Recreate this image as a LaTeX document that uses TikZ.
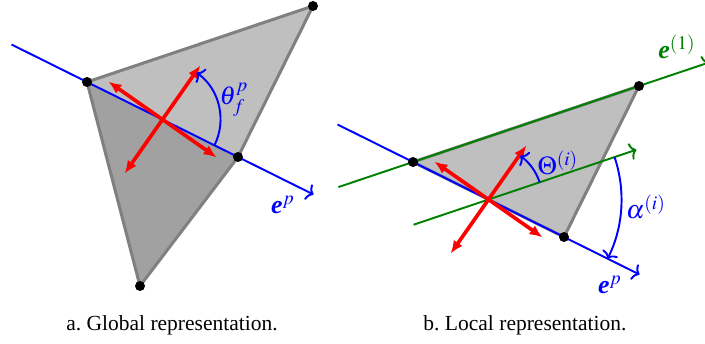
\documentclass[tikz,border=0pt]{standalone}
\usepackage{mathptmx}
\usepackage{fontspec}
\setmainfont{Liberation Serif}
\frenchspacing
\usetikzlibrary{calc,arrows.meta}
\tikzset{
  rim/.style={draw=black!50, line width=1.4pt, line join=round},
  bluax/.style={blue, line width=0.9pt, -{To[length=3pt,width=8pt]}},
  grnax/.style={green!50!black, line width=0.9pt, -{To[length=3pt,width=8pt]}},
  redarr/.style={red, line width=1.7pt, {Latex[length=6pt,width=5pt]}-{Latex[length=6pt,width=5pt]}},
  angarc/.style={blue, line width=0.9pt, -{To[length=3pt,width=8pt]}},
  lbl/.style={font=\large}
}
\newcommand{\ve}{\textbf{\textit{e}}}
\begin{document}
\begin{tikzpicture}[x=0.465pt,y=0.465pt]
  \useasboundingbox (0,0) rectangle (705,343);
  % a. global representation
  \coordinate (T1) at (313,337);
  \coordinate (A1) at (87,261);
  \coordinate (C1) at (238,186);
  \coordinate (D1) at (140,57);
  \coordinate (O1) at ($(A1)!0.5!(C1)$);
  \fill[black!25] (A1) -- (T1) -- (C1) -- cycle;
  \fill[black!37] (A1) -- (C1) -- (D1) -- cycle;
  \draw[rim] (A1) -- (T1) -- (C1) -- (D1) -- cycle;
  \coordinate (P1s) at ($(A1)!-0.5!(C1)$);
  \coordinate (P1e) at ($(A1)!1.5!(C1)$);
  \draw[bluax] (P1s) -- (P1e);
  \draw[redarr] ($(O1)+(145:66)$) -- ($(O1)+(-35:66)$);
  \draw[redarr] ($(O1)+(235:66)$) -- ($(O1)+(55:66)$);
  \draw[angarc] ($(O1)+(-26.4:58)$) arc[start angle=-26.4, end angle=54, radius=58];
  \foreach \v in {A1,T1,C1,D1}
    \fill (\v) circle (5);
  \node[blue, lbl] (thf) at (234,243) {$\theta_f^p$};
  \node[blue, lbl] (ep1) at (283,138) {$\ve^p$};
  % b. local representation
  \coordinate (T2) at ($(T1)+(326,-80)$);
  \coordinate (A2) at ($(A1)+(326,-80)$);
  \coordinate (C2) at ($(C1)+(326,-80)$);
  \coordinate (O2) at ($(A2)!0.5!(C2)$);
  \fill[black!25] (A2) -- (T2) -- (C2) -- cycle;
  \draw[rim] (A2) -- (T2) -- (C2) -- cycle;
  \coordinate (E1s) at ($(A2)!-0.33!(T2)$);
  \coordinate (E1e) at ($(A2)!1.31!(T2)$);
  \draw[grnax] (E1s) -- (E1e);
  \coordinate (P2s) at ($(A2)!-0.5!(C2)$);
  \coordinate (P2e) at ($(A2)!1.5!(C2)$);
  \draw[bluax] (P2s) -- (P2e);
  \draw[grnax] ($(O2)+(198.6:79)$) -- ($(O2)+(18.6:156)$);
  \draw[redarr] ($(O2)+(145:66)$) -- ($(O2)+(-35:66)$);
  \draw[redarr] ($(O2)+(235:66)$) -- ($(O2)+(55:66)$);
  \draw[angarc] ($(O2)+(18.6:54)$) arc[start angle=18.6, end angle=54, radius=54];
  \draw[angarc] ($(O2)+(18.6:133)$) arc[start angle=18.6, end angle=-26.4, radius=133];
  \foreach \v in {A2,T2,C2}
    \fill (\v) circle (5);
  \node[blue, lbl] (Th) at (558,180) {$\Theta^{(i)}$};
  \node[blue, lbl] (al) at (646,136) {$\alpha^{(i)}$};
  \node[blue, lbl] (ep2) at (610,58) {$\ve^p$};
  \node[green!50!black, lbl] (eone) at (677,296) {$\ve^{(1)}$};
  % captions
  \node (capa) at (172,18) {a. Global representation.};
  \node (capb) at (525,18) {b. Local representation.};
\end{tikzpicture}
\end{document}
